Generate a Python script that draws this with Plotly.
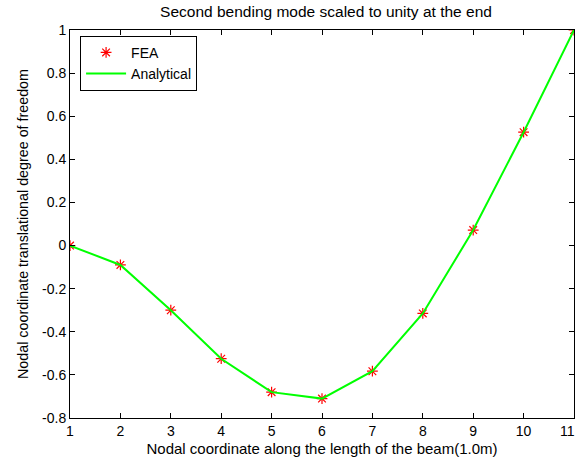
import plotly.graph_objects as go

nodes = [1, 2, 3, 4, 5, 6, 7, 8, 9, 10, 11]
fea = [0.0, -0.09, -0.30, -0.525, -0.68, -0.71, -0.583, -0.315, 0.072, 0.526, 1.0]
analytical = [0.0, -0.09, -0.30, -0.525, -0.68, -0.71, -0.583, -0.315, 0.072, 0.526, 1.0]
x_ticks = [1, 2, 3, 4, 5, 6, 7, 8, 9, 10, 11]
y_ticks = [-0.8, -0.6, -0.4, -0.2, 0, 0.2, 0.4, 0.6, 0.8, 1]
y_tick_text = ["-0.8", "-0.6", "-0.4", "-0.2", "0", "0.2", "0.4", "0.6", "0.8", "1"]

font = "Liberation Sans, Arial, sans-serif"

fig = go.Figure()
fig.add_trace(go.Scatter(
    x=nodes, y=fea, mode="markers", name="FEA",
    marker=dict(symbol="asterisk-open", size=9, color="#ff0000",
                line=dict(color="#ff0000", width=1.2)),
))
fig.add_trace(go.Scatter(
    x=nodes, y=analytical, mode="lines", name="Analytical",
    line=dict(color="#00ff00", width=2),
))

axis_common = dict(
    showgrid=False, zeroline=False, showline=True, linecolor="black", linewidth=1,
    mirror="ticks", ticks="inside", ticklen=5, tickcolor="black", tickwidth=1,
    tickfont=dict(family=font, size=14, color="black"),
)

fig.update_layout(
    width=577, height=462,
    paper_bgcolor="white", plot_bgcolor="white",
    margin=dict(l=70, r=3, t=30, b=44),
    title=dict(text="Second bending mode scaled to unity at the end",
               x=0.565, xanchor="center", y=0.974, yanchor="middle",
               font=dict(family=font, size=15.5, color="black")),
    xaxis=dict(range=[1, 11], tickvals=x_ticks[:-1],
               title=dict(text="Nodal coordinate along the length of the beam(1.0m)",
                          font=dict(family=font, size=15, color="black"), standoff=5),
               **axis_common),
    yaxis=dict(range=[-0.8, 1], tickvals=y_ticks, ticktext=y_tick_text,
               title=dict(text="Nodal coordinate translational degree of freedom",
                          font=dict(family=font, size=14.3, color="black"), standoff=10),
               **axis_common),
    legend=dict(x=0.02, y=0.985, xanchor="left", yanchor="top",
                bordercolor="black", borderwidth=1, bgcolor="white",
                font=dict(family=font, size=14, color="black"),
                tracegroupgap=0, itemwidth=40),
    showlegend=True,
)

# last x tick label (at the right frame edge), kept fully inside the page
fig.add_annotation(x=x_ticks[-1], y=0, xref="x", yref="paper", text=str(x_ticks[-1]),
                   showarrow=False, xanchor="right", yanchor="top", yshift=-3, xshift=3,
                   font=dict(family=font, size=14, color="black"))

fig.write_html("out.html")
